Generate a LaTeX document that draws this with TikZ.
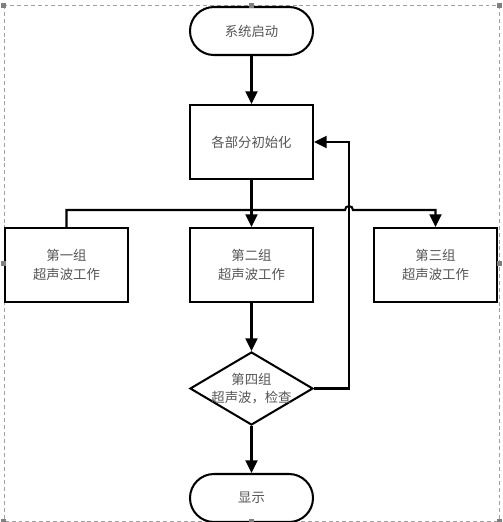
\documentclass[tikz,border=0pt]{standalone}
\usepackage{fontspec}
\newfontfamily\cjk{Noto Sans CJK SC}
\usetikzlibrary{arrows.meta}
\usetikzlibrary{shapes.geometric}
\definecolor{textgray}{HTML}{555555}
\definecolor{framegray}{HTML}{A0A0A0}
\definecolor{handlegray}{HTML}{808080}

\begin{document}
\begin{tikzpicture}[x=0.025cm, y=-0.025cm, line width=1.45pt,
	flow/.style={-{Triangle[length=9pt,width=8.5pt]}},
	txt/.style={font=\cjk\fontsize{9.5}{13}\selectfont, text=textgray, align=center},
	term/.style={draw, txt, rectangle, rounded corners=0.6cm, minimum width=3.075cm, minimum height=1.2cm},
	proc/.style={draw, txt, rectangle, minimum width=3.075cm, minimum height=1.85cm},
	decide/.style={draw, diamond, minimum width=3.075cm, minimum height=1.825cm, inner sep=0pt},
	handle/.style={fill=handlegray, draw=none}]

	\useasboundingbox (0,0) rectangle (503,522);
	\draw [framegray, line width=0.7pt, dash pattern=on 2.8pt off 2.1pt] (4,5) rectangle (499,521);

	\node [term] (start) at (251.5,31) {系统启动};
	\node [proc] (init) at (251.5,142) {各部分初始化};
	\node [proc] (g1) at (66.5,265) {第一组\\超声波工作};
	\node [proc] (g2) at (251.5,265) {第二组\\超声波工作};
	\node [proc] (g3) at (435.5,265) {第三组\\超声波工作};
	\node [decide, label={[txt]center:{第四组\\超声波，检查}}] (check) at (251.5,388.5) {};
	\node [term] (show) at (251.5,498) {显示};

	\coordinate (hop) at (349,210);
	\coordinate (back) at (349,142);

	\draw [flow] (start) -- (init);
	\draw [flow] (init) -- (g2);
	\draw [flow] (g1.north) |- ([xshift=-0.1cm]hop) arc (180:360:4) -| (g3.north);
	\draw [flow] (g2) -- (check);
	\draw [flow] (check) -- (show);
	\draw [flow] (check.east) -| (back) -- (init.east);

	% selection handles
	\foreach \hx/\hy in {4/5, 251.5/5, 499/5, 4/263, 499/263, 4/521, 251.5/521, 499/521}
		\fill [handle] (\hx-2.5,\hy-2.5) rectangle (\hx+2.5,\hy+2.5);

\end{tikzpicture}
\end{document}
